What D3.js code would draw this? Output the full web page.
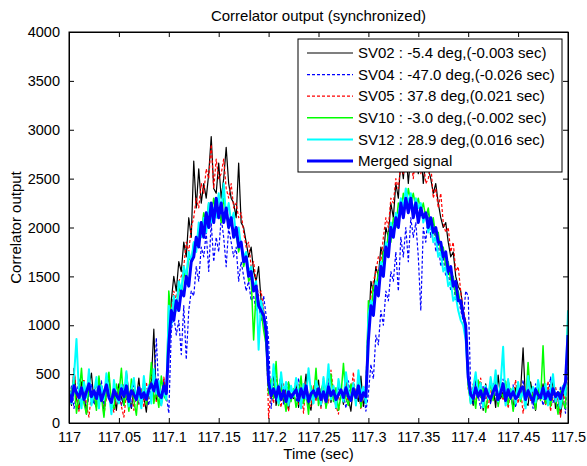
<!DOCTYPE html>
<html lang="en">
<head>
<meta charset="utf-8">
<title>Correlator output</title>
<script src="https://cdn.jsdelivr.net/npm/d3@7"></script>
<style>
  body { margin: 0; background: #fff; }
  text { font-family: Arial, "Liberation Sans", sans-serif; fill: #000; }
</style>
</head>
<body>
<script>
// sampling grid: 117.000 .. 117.500 sec, every 2.5 ms
var t0 = 117.0, dt = 0.0025;

var xTicks = [117, 117.05, 117.1, 117.15, 117.2, 117.25, 117.3, 117.35, 117.4, 117.45, 117.5];
var yTicks = [0, 500, 1000, 1500, 2000, 2500, 3000, 3500, 4000];

var legendLabels = [
  "SV02 : -5.4 deg,(-0.003 sec)",
  "SV04 : -47.0 deg,(-0.026 sec)",
  "SV05 : 37.8 deg,(0.021 sec)",
  "SV10 : -3.0 deg,(-0.002 sec)",
  "SV12 : 28.9 deg,(0.016 sec)",
  "Merged signal"
];

var sv02 = [
  320, 180, 560, 250, 140, 420, 300, 90, 380, 510,
  220, 160, 450, 280, 120, 350, 470, 200, 310, 130,
  400, 260, 180, 520, 300, 150, 340, 240, 460, 190,
  270, 110, 380, 430, 960, 230, 300, 180, 420, 290,
  850, 1250, 1500, 1350, 1650, 1550, 1850, 1700, 2100, 1900,
  2680, 2200, 2600, 2250, 2450, 2300, 2550, 2930, 2400, 2350,
  2660, 2300, 2500, 2820, 2450, 2300, 2250, 2100, 2660, 2050,
  2000, 1850, 1700, 1800, 1550, 1450, 1600, 1250, 1150, 800,
  400, 250, 520, 180, 330, 460, 220, 380, 140, 300,
  250, 420, 160, 350, 280, 500, 200, 130, 360, 240,
  440, 170, 300, 260, 520, 210, 380, 150, 280, 330,
  190, 460, 250, 120, 400, 300, 220, 480, 170, 310,
  900, 1450, 1350, 1600, 1500, 1800, 1700, 2000, 1900, 2250,
  2100, 2450, 2300, 2700, 2500, 2800, 2450, 2750, 2600, 2900,
  2550, 2800, 2450, 2700, 2600, 2500, 2350, 2450, 2250, 2100,
  2000, 2050, 1850, 1700, 1750, 1500, 1400, 1350, 1150, 900,
  420, 300, 180, 450, 260, 350, 130, 400, 280, 220,
  380, 160, 490, 250, 320, 200, 440, 300, 150, 360,
  260, 330, 770, 210, 180, 420, 270, 130, 350, 240,
  400, 190, 310, 260, 450, 150, 320, 80, 270, 350, 1100
];

var sv04 = [
  250, 380, 150, 300, 450, 200, 340, 120, 280, 400,
  190, 310, 250, 430, 160, 290, 370, 220, 140, 330,
  270, 180, 390, 240, 310, 150, 420, 260, 200, 350,
  230, 300, 180, 420, 250, 870, 310, 200, 450, 280,
  100, 950, 1100, 900, 1050, 700, 1200, 650, 1150, 1350,
  1300, 1600, 1450, 1800, 1700, 1950, 1550, 2050, 1650, 1900,
  1750, 2100, 1900, 1600, 2000, 1850, 1700, 1800, 1450, 1650,
  1500, 1350, 1450, 1250, 1300, 1150, 1200, 1050, 1300, 1100,
  850, 150, 400, 220, 350, 500, 180, 300, 420, 250,
  330, 190, 460, 280, 210, 380, 150, 310, 260, 440,
  200, 350, 280, 170, 410, 240, 320, 190, 370, 260,
  300, 150, 430, 220, 350, 270, 400, 180, 320, 120,
  300, 600, 450, 900, 800, 1150, 1000, 1350, 1250, 1550,
  1450, 1750, 1350, 1900, 1700, 2000, 1650, 2100, 1900, 2050,
  1700, 1150, 2000, 1850, 2150, 1900, 2050, 1750, 1850, 1600,
  1700, 1500, 1550, 1350, 1450, 1250, 1300, 1150, 1050, 1350,
  1300, 350, 200, 420, 280, 150, 380, 250, 330, 190,
  410, 270, 200, 350, 450, 180, 300, 240, 390, 160,
  320, 260, 440, 200, 350, 280, 150, 400, 230, 310,
  180, 360, 250, 470, 210, 300, 140, 380, 260, 100, 700
];

var sv05 = [
  400, 200, 550, 280, 120, 350, 450, 180, 60, 310,
  240, 420, 150, 330, 80, 260, 380, 200, 110, 290,
  350, 170, 60, 300, 220, 400, 130, 280, 190, 340,
  160, 420, 250, 540, 300, 220, 380, 180, 470, 320,
  1000, 1150, 1350, 1250, 1450, 1500, 1600, 1850, 1750, 2000,
  2100, 2300, 2200, 2450, 2350, 2600, 2500, 2850, 2400, 2700,
  2500, 2550, 2700, 2400, 2300, 2450, 2200, 2250, 2100, 2150,
  1950, 1800, 1850, 1600, 1650, 1450, 1300, 1350, 1150, 1000,
  50, 350, 200, 480, 310, 160, 400, 260, 120, 370,
  280, 450, 190, 330, 100, 410, 250, 170, 380, 230,
  310, 150, 460, 270, 200, 540, 320, 180, 90, 360,
  240, 430, 170, 300, 520, 210, 350, 140, 280, 400,
  1100, 1300, 1450, 1550, 1700, 1650, 1900, 2100, 2000, 2300,
  2250, 2500, 2400, 2650, 2550, 2800, 2600, 2700, 2500, 2750,
  2600, 2550, 2700, 2450, 2500, 2650, 2300, 2400, 2200, 2350,
  2050, 1950, 2000, 1750, 1850, 1550, 1600, 1350, 1150, 1050,
  350, 250, 400, 180, 320, 460, 210, 290, 140, 380,
  260, 500, 190, 340, 230, 420, 150, 310, 280, 440,
  200, 350, 100, 270, 480, 230, 330, 160, 400, 250,
  310, 180, 430, 120, 290, 370, 240, 60, 320, 200, 1050
];

var sv10 = [
  180, 320, 450, 100, 280, 560, 200, 90, 380, 250,
  330, 130, 480, 270, 60, 350, 520, 210, 150, 400,
  290, 560, 180, 340, 120, 450, 230, 80, 370, 260,
  420, 190, 310, 620, 200, 350, 160, 480, 280, 230,
  1350, 1050, 1250, 1150, 1400, 1300, 1550, 1450, 1700, 1650,
  1850, 1800, 2000, 1950, 2150, 2050, 2250, 2100, 2300, 2150,
  2200, 2050, 2300, 2150, 2000, 2100, 1900, 1950, 1750, 1850,
  1600, 1700, 1450, 1500, 850, 1350, 1250, 1150, 950, 800,
  300, 450, 250, 630, 180, 360, 280, 120, 420, 220,
  350, 160, 270, 480, 200, 310, 90, 380, 240, 560,
  180, 330, 420, 150, 290, 500, 220, 360, 130, 280,
  610, 250, 180, 400, 300, 220, 470, 160, 340, 270,
  1250, 1100, 1400, 1350, 1550, 1500, 1750, 1700, 1950, 1850,
  2100, 2000, 2250, 2150, 2350, 2200, 2400, 2250, 2350, 2200,
  2300, 2150, 2250, 2100, 2200, 2000, 2100, 1900, 1950, 1750,
  1800, 1600, 1650, 1450, 1500, 1300, 1350, 1200, 1100, 950,
  380, 200, 320, 150, 440, 260, 350, 110, 290, 400,
  230, 500, 170, 320, 260, 430, 190, 350, 120, 280,
  410, 220, 340, 180, 620, 250, 300, 140, 380, 230,
  790, 200, 310, 170, 360, 250, 90, 330, 210, 150, 1150
];

var sv12 = [
  350, 200, 480, 860, 300, 150, 420, 260, 550, 180,
  300, 470, 150, 380, 240, 510, 320, 90, 440, 260,
  200, 390, 280, 530, 170, 340, 460, 230, 310, 150,
  480, 260, 380, 200, 550, 300, 430, 180, 350, 240,
  1200, 1000, 1300, 1150, 1450, 1350, 1600, 1500, 1750, 1650,
  1850, 1750, 2050, 1900, 2100, 1950, 2250, 2050, 2200, 2100,
  2350, 2150, 2450, 2100, 2250, 2050, 2150, 1900, 2000, 1800,
  1700, 1750, 1550, 1600, 1400, 1450, 750, 1250, 1100, 1000,
  450, 280, 600, 350, 200, 520, 300, 420, 180, 380,
  270, 460, 330, 150, 400, 250, 560, 310, 200, 430,
  350, 190, 470, 280, 600, 240, 380, 160, 450, 300,
  220, 520, 330, 250, 410, 180, 540, 290, 370, 200,
  1100, 1250, 1200, 1450, 1400, 1650, 1600, 1850, 1800, 2050,
  1950, 2150, 2100, 2300, 2200, 2400, 2250, 2350, 2150, 2300,
  2200, 2250, 2050, 2150, 1950, 2050, 1850, 1900, 1700, 1750,
  1550, 1600, 1400, 1450, 1250, 1300, 1150, 1050, 1000, 850,
  450, 200, 350, 520, 280, 410, 160, 380, 250, 470,
  300, 540, 220, 400, 780, 180, 450, 260, 360, 200,
  420, 250, 330, 150, 480, 290, 370, 210, 440, 300,
  250, 400, 180, 350, 500, 220, 310, 150, 380, 280, 1150
];

var merged = [
  300, 220, 380, 310, 260, 360, 240, 320, 400, 270,
  330, 250, 370, 230, 310, 390, 260, 210, 340, 280,
  240, 350, 270, 380, 220, 330, 290, 240, 360, 260,
  310, 240, 340, 400, 330, 440, 290, 260, 380, 300,
  800, 1150, 1050, 1250, 1150, 1350, 1300, 1500, 1400, 1650,
  1700, 1900, 1800, 2050, 1900, 2150, 2000, 2250, 2050, 2300,
  2100, 2250, 2050, 2200, 2000, 2100, 1900, 2000, 1800, 1850,
  1650, 1700, 1500, 1550, 1350, 1400, 1200, 1150, 1100, 950,
  420, 280, 350, 260, 370, 240, 330, 220, 320, 260,
  300, 340, 230, 350, 260, 380, 220, 300, 330, 270,
  350, 240, 320, 220, 370, 280, 330, 240, 290, 340,
  260, 360, 270, 230, 350, 260, 380, 230, 310, 270,
  850, 1200, 1100, 1400, 1300, 1600, 1500, 1800, 1700, 2000,
  1900, 2100, 2000, 2250, 2100, 2300, 2150, 2300, 2100, 2250,
  2050, 2200, 2100, 2150, 2000, 2100, 1950, 2000, 1850, 1850,
  1700, 1750, 1550, 1600, 1400, 1450, 1250, 1250, 1100, 1000,
  470, 290, 250, 360, 270, 330, 230, 350, 280, 250,
  320, 380, 240, 310, 400, 230, 340, 260, 320, 250,
  280, 350, 370, 240, 330, 270, 220, 340, 290, 260,
  360, 250, 320, 240, 350, 270, 310, 250, 340, 420, 900
];

var width = 587;
var height = 466;
var margin = { top: 32, right: 19, bottom: 43, left: 69 };

var series = [
  { values: sv02, color: "#000000", width: 1.2, dash: null },
  { values: sv04, color: "#0000ff", width: 1.2, dash: "3,2" },
  { values: sv05, color: "#ff0000", width: 1.2, dash: "3,2" },
  { values: sv10, color: "#00ff00", width: 1.5, dash: null },
  { values: sv12, color: "#00ffff", width: 2, dash: null },
  { values: merged, color: "#0000ff", width: 3, dash: null }
];

var svg = d3.select("body").append("svg")
  .attr("width", width)
  .attr("height", height);

var x = d3.scaleLinear()
  .domain([117, 117.5])
  .range([margin.left, width - margin.right]);

var y = d3.scaleLinear()
  .domain([0, 4000])
  .range([height - margin.bottom, margin.top]);

svg.append("clipPath").attr("id", "plotclip")
  .append("rect")
  .attr("x", margin.left).attr("y", margin.top)
  .attr("width", width - margin.left - margin.right)
  .attr("height", height - margin.top - margin.bottom);

var line = d3.line()
  .x(function (d, i) { return x(t0 + i * dt); })
  .y(function (d) { return y(d); });

var plot = svg.append("g").attr("clip-path", "url(#plotclip)");

series.forEach(function (s) {
  plot.append("path")
    .datum(s.values)
    .attr("d", line)
    .attr("fill", "none")
    .attr("stroke", s.color)
    .attr("stroke-width", s.width)
    .attr("stroke-dasharray", s.dash)
    .attr("stroke-linejoin", "round");
});

// axes, ticks pointing inward on all four sides
var xFmt = function (d) { return String(+d.toFixed(2)); };
var yFmt = function (d) { return String(d); };

svg.append("g")
  .attr("transform", "translate(0," + (height - margin.bottom) + ")")
  .call(d3.axisBottom(x).tickValues(xTicks).tickSizeInner(-5).tickSizeOuter(0).tickPadding(9).tickFormat(xFmt));
svg.append("g")
  .attr("transform", "translate(0," + margin.top + ")")
  .call(d3.axisTop(x).tickValues(xTicks).tickSizeInner(-5).tickSizeOuter(0).tickFormat(""));
svg.append("g")
  .attr("transform", "translate(" + margin.left + ",0)")
  .call(d3.axisLeft(y).tickValues(yTicks).tickSizeInner(-5).tickSizeOuter(0).tickPadding(9).tickFormat(yFmt));
svg.append("g")
  .attr("transform", "translate(" + (width - margin.right) + ",0)")
  .call(d3.axisRight(y).tickValues(yTicks).tickSizeInner(-5).tickSizeOuter(0).tickFormat(""));

svg.selectAll(".tick text")
  .style("font-size", "14.5px")
  .style("font-family", "Arial, 'Liberation Sans', sans-serif");
svg.selectAll(".domain, .tick line").attr("stroke", "#000");

svg.append("rect")
  .attr("x", margin.left).attr("y", margin.top)
  .attr("width", width - margin.left - margin.right)
  .attr("height", height - margin.top - margin.bottom)
  .attr("fill", "none")
  .attr("stroke", "#000")
  .attr("stroke-width", 1);

// title and labels
svg.append("text")
  .attr("x", (margin.left + width - margin.right) / 2)
  .attr("y", 21)
  .attr("text-anchor", "middle")
  .style("font-size", "15px")
  .text("Correlator output (synchronized)");

svg.append("text")
  .attr("x", (margin.left + width - margin.right) / 2)
  .attr("y", 459)
  .attr("text-anchor", "middle")
  .style("font-size", "15px")
  .text("Time (sec)");

svg.append("text")
  .attr("transform", "translate(21," + ((margin.top + height - margin.bottom) / 2) + ")rotate(-90)")
  .attr("text-anchor", "middle")
  .style("font-size", "15px")
  .text("Correlator output");

// legend
var legend = svg.append("g");
legend.append("rect")
  .attr("x", 298).attr("y", 39)
  .attr("width", 264).attr("height", 133)
  .attr("fill", "#fff")
  .attr("stroke", "#000")
  .attr("stroke-width", 1);

legendLabels.forEach(function (lab, i) {
  var s = series[i];
  var ly = 53 + i * 21.6;
  legend.append("line")
    .attr("x1", 307).attr("x2", 353)
    .attr("y1", ly).attr("y2", ly)
    .attr("stroke", s.color)
    .attr("stroke-width", s.width)
    .attr("stroke-dasharray", s.dash);
  legend.append("text")
    .attr("x", 358)
    .attr("y", ly)
    .attr("dy", "0.35em")
    .style("font-size", "15px")
    .text(lab);
});
</script>
</body>
</html>
